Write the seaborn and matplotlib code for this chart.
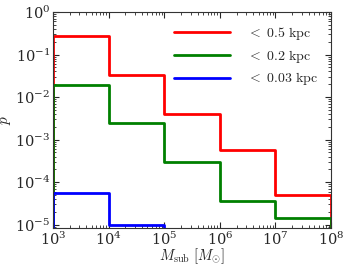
import numpy as np
import pandas as pd
import matplotlib
matplotlib.use("Agg")
import matplotlib.pyplot as plt
import seaborn as sns

# bin edges in subhalo mass and probability per bin
edges = [1e3, 1e4, 1e5, 1e6, 1e7, 1e8]
p_05 = [0.27, 0.033, 0.0041, 5.8e-4, 4.9e-5]
p_02 = [0.0195, 2.4e-3, 2.9e-4, 3.5e-5, 1.4e-5]
p_003 = [5.5e-5, 1.0e-5]
labels = [r'$<\ 0.5\ \mathrm{kpc}$', r'$<\ 0.2\ \mathrm{kpc}$', r'$<\ 0.03\ \mathrm{kpc}$']
colors = ['red', 'green', 'blue']

sns.set_style("ticks")
plt.rcParams['mathtext.fontset'] = 'cm'
plt.rcParams['font.family'] = ['DejaVu Serif']
plt.rcParams['font.size'] = 11
plt.rcParams['xtick.direction'] = 'in'
plt.rcParams['ytick.direction'] = 'in'
plt.rcParams['xtick.top'] = True
plt.rcParams['ytick.right'] = True

ymin = 8.3e-6


def step_frame(vals):
    # outline of a step histogram, dropping to the floor at both ends
    x = [edges[0]]
    y = [ymin]
    for i, v in enumerate(vals):
        x += [edges[i], edges[i + 1]]
        y += [v, v]
    x.append(edges[len(vals)])
    y.append(ymin)
    return pd.DataFrame({'M': x, 'p': y})


fig = plt.figure(figsize=(3.46, 2.68), dpi=100)
ax = fig.add_axes([0.153, 0.149, 0.804, 0.806])

for vals, lab, col in zip([p_05, p_02, p_003], labels, colors):
    df = step_frame(vals)
    sns.lineplot(data=df, x='M', y='p', ax=ax, color=col, lw=2.0,
                 label=lab, sort=False, estimator=None)

ax.set_xscale('log')
ax.set_yscale('log')
ax.set_xlim(1e3, 1e8)
ax.set_ylim(ymin, 1.0)
ax.set_xticks([1e3, 1e4, 1e5, 1e6, 1e7, 1e8])
ax.set_yticks([1e-5, 1e-4, 1e-3, 1e-2, 1e-1, 1e0])
ax.tick_params(which='both', labelsize=10.5, pad=2)
ax.tick_params(which='major', length=4)
ax.tick_params(which='minor', length=2)
ax.set_xlabel(r'$M_{\rm sub}\ [M_{\odot}]$', fontsize=10.5, labelpad=-1)
ax.set_ylabel(r'$p$', fontsize=11, labelpad=1)
for s in ax.spines.values():
    s.set_color('#333333')

ax.legend(loc='upper right', frameon=False, handlelength=4.0,
          fontsize=10, borderaxespad=0.55, labelspacing=0.4,
          handletextpad=1.2)

plt.savefig('out.png', dpi=100)
